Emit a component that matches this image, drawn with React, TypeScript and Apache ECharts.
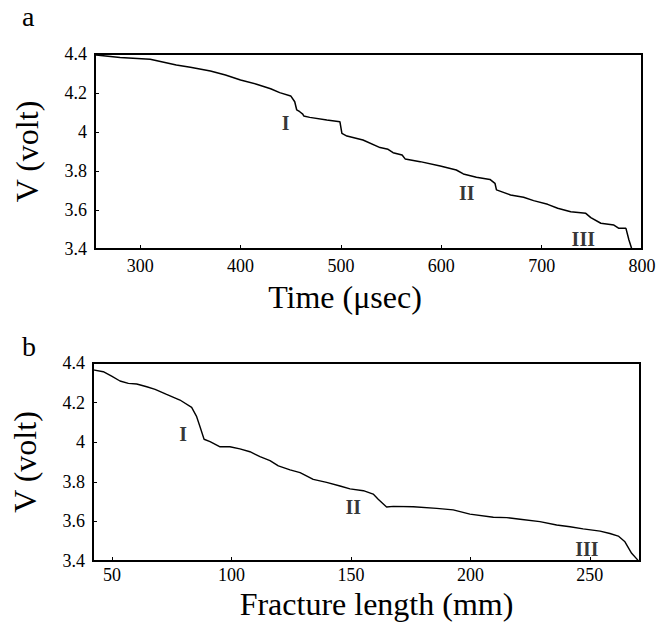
import React, { useEffect, useRef } from "react";
import * as echarts from "echarts";

// Panel a: voltage vs time (µs)
const timeA = [256, 280, 310, 336, 350, 370, 385, 400, 416, 430, 439, 450, 454, 456, 459, 462, 463, 469, 486, 499, 501, 506, 522, 539, 547, 552, 561, 564, 579, 599, 615, 622, 635, 648.5, 653.5, 655, 669, 682, 692, 706, 716, 729, 744, 749, 759, 772, 777, 784, 787, 789.6];
const voltA = [4.395, 4.382, 4.373, 4.344, 4.332, 4.313, 4.292, 4.267, 4.245, 4.222, 4.202, 4.185, 4.155, 4.113, 4.104, 4.092, 4.082, 4.075, 4.061, 4.053, 3.993, 3.979, 3.959, 3.92, 3.911, 3.894, 3.882, 3.862, 3.848, 3.826, 3.805, 3.785, 3.768, 3.757, 3.737, 3.703, 3.677, 3.665, 3.648, 3.629, 3.609, 3.591, 3.583, 3.561, 3.532, 3.523, 3.506, 3.506, 3.446, 3.404];

// Panel b: voltage vs fracture length (mm)
const lenB = [42.1, 46.3, 49.8, 53.3, 56.8, 60.3, 64.5, 68, 72.8, 78.4, 83.3, 85.4, 86.8, 88.5, 91, 95.2, 99.3, 103.5, 107.7, 111.9, 116.1, 119.6, 124.5, 128.7, 134.2, 139.8, 145.4, 149.6, 155.2, 159.3, 161.4, 164.9, 167.7, 176.1, 185.9, 192.8, 199.8, 209.6, 215.2, 220.8, 229.1, 236.1, 241.7, 247.2, 254.3, 258.4, 261.9, 264.7, 267.5, 270.3];
const voltB = [4.365, 4.356, 4.334, 4.309, 4.297, 4.294, 4.28, 4.267, 4.242, 4.213, 4.176, 4.129, 4.078, 4.015, 4.003, 3.977, 3.977, 3.966, 3.952, 3.927, 3.907, 3.88, 3.86, 3.846, 3.812, 3.797, 3.779, 3.764, 3.755, 3.738, 3.712, 3.673, 3.676, 3.674, 3.666, 3.658, 3.637, 3.621, 3.619, 3.611, 3.599, 3.582, 3.573, 3.562, 3.551, 3.539, 3.526, 3.497, 3.439, 3.402];

// Stage labels
const stageNames = ["I", "II", "III"];
const stageA_x = [445, 625.5, 741.5];
const stageA_y = [4.046, 3.685, 3.449];
const stageB_x = [79.7, 151, 248.8];
const stageB_y = [4.041, 3.675, 3.463];

const FONT = "'Liberation Serif', 'Times New Roman', serif";

export default function App() {
  const ref = useRef<HTMLDivElement>(null);
  useEffect(() => {
    if (!ref.current) return;
    const chart = echarts.init(ref.current, undefined, { renderer: "svg" });
    const yAxisBase = (gridIndex: number) => ({
      type: "value",
      gridIndex,
      min: 3.4,
      max: 4.4,
      interval: 0.2,
      name: "V (volt)",
      nameLocation: "middle",
      nameGap: 52,
      nameTextStyle: { fontFamily: FONT, fontSize: 32, color: "#000" },
      axisLine: { show: false },
      axisTick: { show: true, inside: true, length: 4, lineStyle: { color: "#000", width: 1 } },
      axisLabel: { fontFamily: FONT, fontSize: 18, color: "#000", margin: 8 },
      splitLine: { show: false },
    });
    const pairs = (xs: number[], ys: number[]) => xs.map((x, i) => [x, ys[i]]);
    chart.setOption({
      animation: false,
      backgroundColor: "#fff",
      graphic: [
        { type: "text", left: 22, top: 2, style: { text: "a", font: `28px ${FONT}`, fill: "#000" } },
        { type: "text", left: 22, top: 332, style: { text: "b", font: `28px ${FONT}`, fill: "#000" } },
      ],
      grid: [
        { left: 95, top: 54, width: 547, height: 195, show: true, borderColor: "#000", borderWidth: 2, backgroundColor: "transparent" },
        { left: 93, top: 363, width: 547, height: 198, show: true, borderColor: "#000", borderWidth: 2, backgroundColor: "transparent" },
      ],
      xAxis: [
        {
          type: "value",
          gridIndex: 0,
          min: 255,
          max: 800,
          splitNumber: 5,
          name: "Time (μsec)",
          nameLocation: "middle",
          nameGap: 32,
          nameTextStyle: { fontFamily: FONT, fontSize: 32, color: "#000", padding: [0, 47, 0, 0] },
          axisLine: { show: false },
          axisTick: { show: true, inside: true, length: 4, lineStyle: { color: "#000", width: 1 } },
          axisLabel: { fontFamily: FONT, fontSize: 18, color: "#000", margin: 8, showMinLabel: false },
          splitLine: { show: false },
        },
        {
          type: "value",
          gridIndex: 1,
          min: 42,
          max: 271,
          splitNumber: 5,
          name: "Fracture length (mm)",
          nameLocation: "middle",
          nameGap: 27,
          nameTextStyle: { fontFamily: FONT, fontSize: 32, color: "#000", padding: [0, 0, 0, 20] },
          axisLine: { show: false },
          axisTick: { show: true, inside: true, length: 4, lineStyle: { color: "#000", width: 1 } },
          axisLabel: { fontFamily: FONT, fontSize: 18, color: "#000", margin: 5, showMinLabel: false, showMaxLabel: false },
          splitLine: { show: false },
        },
      ],
      yAxis: [yAxisBase(0), yAxisBase(1)],
      series: [
        {
          type: "line",
          xAxisIndex: 0,
          yAxisIndex: 0,
          data: pairs(timeA, voltA),
          showSymbol: false,
          lineStyle: { color: "#000", width: 1.5 },
        },
        {
          type: "line",
          xAxisIndex: 1,
          yAxisIndex: 1,
          data: pairs(lenB, voltB),
          showSymbol: false,
          lineStyle: { color: "#000", width: 1.4 },
        },
        {
          type: "scatter",
          xAxisIndex: 0,
          yAxisIndex: 0,
          symbolSize: 1,
          itemStyle: { color: "rgba(0,0,0,0)" },
          data: stageNames.map((n, i) => ({ name: n, value: [stageA_x[i], stageA_y[i]] })),
          label: { show: true, position: "inside", formatter: "{b}", fontFamily: FONT, fontSize: 20, fontWeight: "bold", color: "#000" },
        },
        {
          type: "scatter",
          xAxisIndex: 1,
          yAxisIndex: 1,
          symbolSize: 1,
          itemStyle: { color: "rgba(0,0,0,0)" },
          data: stageNames.map((n, i) => ({ name: n, value: [stageB_x[i], stageB_y[i]] })),
          label: { show: true, position: "inside", formatter: "{b}", fontFamily: FONT, fontSize: 20, fontWeight: "bold", color: "#000" },
        },
      ],
    });
    return () => chart.dispose();
  }, []);
  return <div ref={ref} style={{ position: "absolute", left: 0, top: 0, width: 670, height: 626 }} />;
}
